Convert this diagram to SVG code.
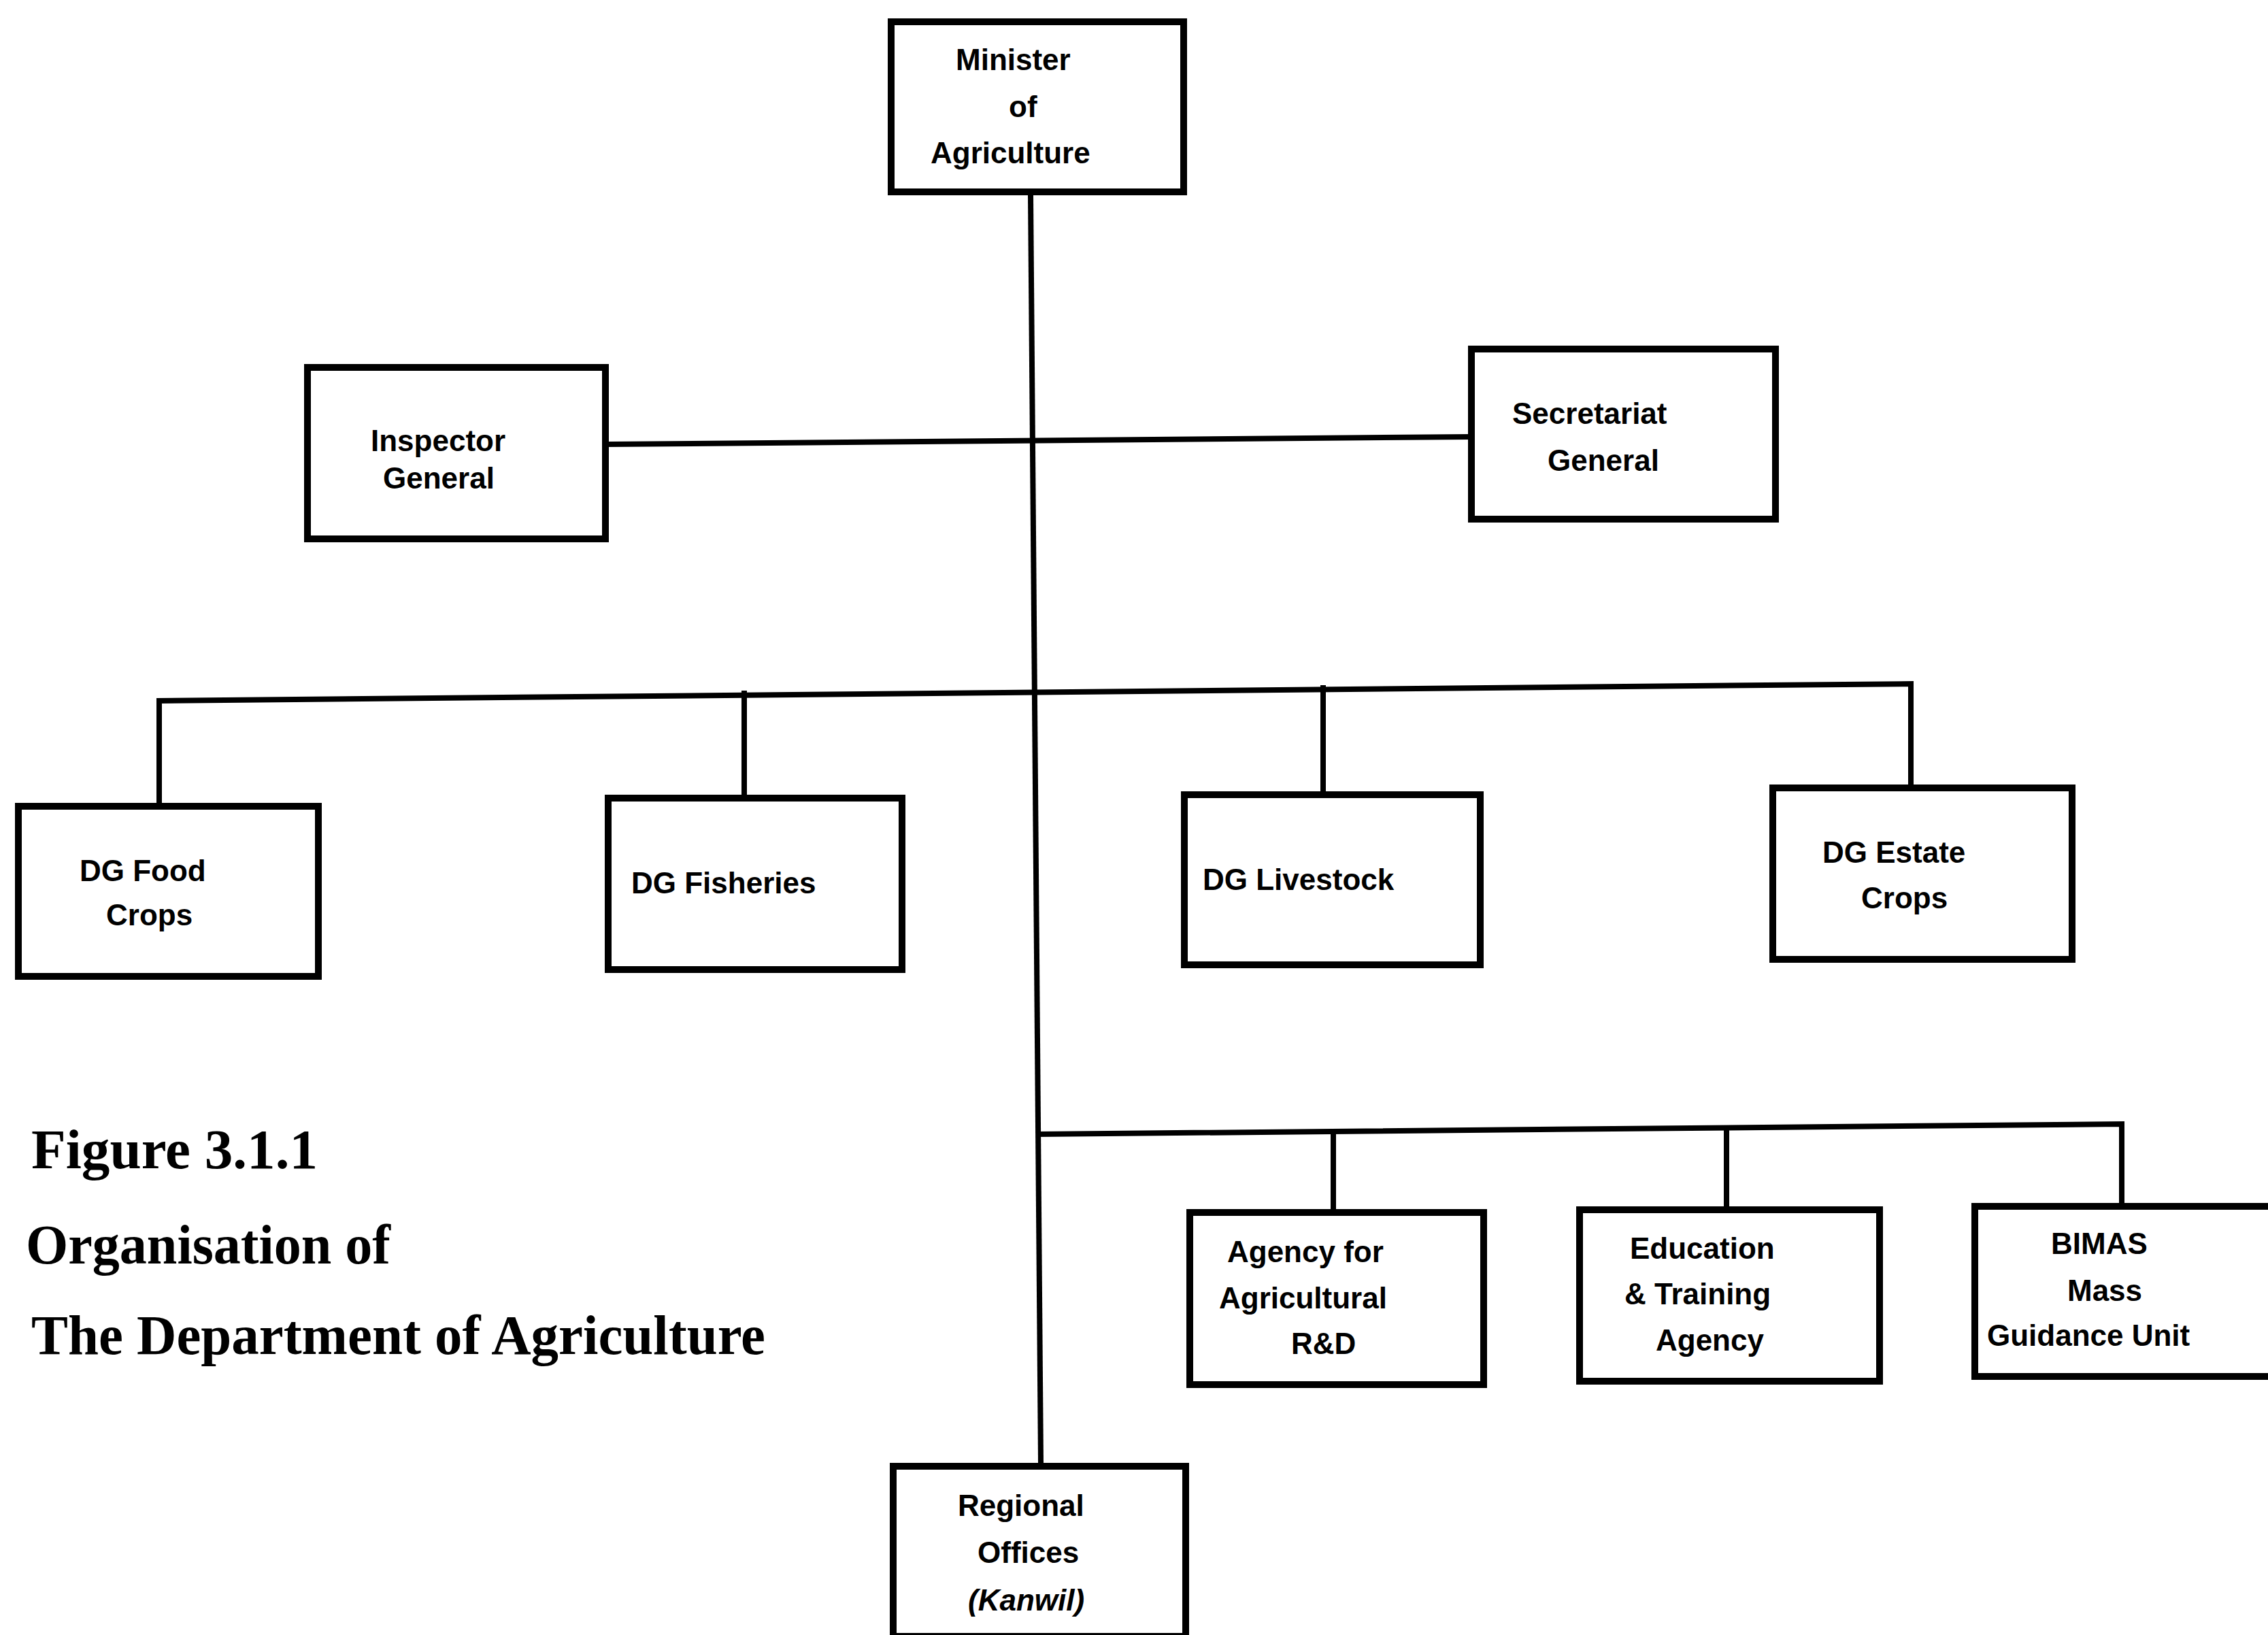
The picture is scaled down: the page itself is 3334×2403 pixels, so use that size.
<svg xmlns="http://www.w3.org/2000/svg" width="3334" height="2403" viewBox="0 0 3334 2403">
<style>
.box{fill:#fff;stroke:#000;stroke-width:10}
.con{fill:none;stroke:#000;stroke-width:8;stroke-linecap:square;stroke-linejoin:miter}
.lbl{font-family:"Liberation Sans",Arial,sans-serif;font-weight:bold;font-size:44px;fill:#000}
.it{font-style:italic}
.cap{font-family:"Liberation Serif","Times New Roman",serif;font-weight:bold;font-size:83px;fill:#000}
</style>
<rect width="3334" height="2403" fill="#fff"/>
<g id="connectors">
<path class="con" d="M1515,287 L1530,2150"/>
<path class="con" d="M895,653 L2158,642"/>
<path class="con" d="M234,1183 L234,1030 L2809,1005 L2809,1155"/>
<path class="con" d="M1094,1019 L1094,1170"/>
<path class="con" d="M1945,1011 L1945,1163"/>
<path class="con" d="M1527,1667 L3119,1652 L3119,1770"/>
<path class="con" d="M1960,1663 L1960,1778"/>
<path class="con" d="M2538,1658 L2538,1774"/>
</g>
<g id="minister">
<rect class="box" x="1310" y="32" width="430" height="250"/>
<text class="lbl" x="1405" y="103">Minister</text>
<text class="lbl" x="1483" y="172">of</text>
<text class="lbl" x="1368" y="240">Agriculture</text>
</g>
<g id="inspector-general">
<rect class="box" x="452" y="540" width="438" height="252"/>
<text class="lbl" x="545" y="663">Inspector</text>
<text class="lbl" x="563" y="718">General</text>
</g>
<g id="secretariat-general">
<rect class="box" x="2163" y="513" width="447" height="250"/>
<text class="lbl" x="2223" y="623">Secretariat</text>
<text class="lbl" x="2275" y="692">General</text>
</g>
<g id="dg-food-crops">
<rect class="box" x="27" y="1185" width="441" height="250"/>
<text class="lbl" x="117" y="1295">DG Food</text>
<text class="lbl" x="156" y="1360">Crops</text>
</g>
<g id="dg-fisheries">
<rect class="box" x="894" y="1173" width="432" height="252"/>
<text class="lbl" x="928" y="1313">DG Fisheries</text>
</g>
<g id="dg-livestock">
<rect class="box" x="1741" y="1168" width="435" height="250"/>
<text class="lbl" x="1768" y="1308">DG Livestock</text>
</g>
<g id="dg-estate-crops">
<rect class="box" x="2606" y="1158" width="440" height="252"/>
<text class="lbl" x="2679" y="1268">DG Estate</text>
<text class="lbl" x="2736" y="1335">Crops</text>
</g>
<g id="agency-rd">
<rect class="box" x="1749" y="1782" width="432" height="253"/>
<text class="lbl" x="1804" y="1855">Agency for</text>
<text class="lbl" x="1792" y="1923">Agricultural</text>
<text class="lbl" x="1898" y="1990">R&amp;D</text>
</g>
<g id="education-training">
<rect class="box" x="2322" y="1778" width="441" height="252"/>
<text class="lbl" x="2396" y="1850">Education</text>
<text class="lbl" x="2388" y="1917">&amp; Training</text>
<text class="lbl" x="2434" y="1985">Agency</text>
</g>
<g id="bimas">
<rect class="box" x="2903" y="1773" width="460" height="250"/>
<text class="lbl" x="3015" y="1843">BIMAS</text>
<text class="lbl" x="3039" y="1912">Mass</text>
<text class="lbl" x="2921" y="1978">Guidance Unit</text>
</g>
<g id="regional-offices">
<rect class="box" x="1313" y="2155" width="430" height="250"/>
<text class="lbl" x="1408" y="2228">Regional</text>
<text class="lbl" x="1437" y="2297">Offices</text>
<text class="lbl it" x="1423" y="2367">(Kanwil)</text>
</g>
<g id="caption">
<text class="cap" x="46" y="1717" textLength="421" lengthAdjust="spacingAndGlyphs">Figure 3.1.1</text>
<text class="cap" x="38" y="1857" textLength="536" lengthAdjust="spacingAndGlyphs">Organisation of</text>
<text class="cap" x="46" y="1990" textLength="1079" lengthAdjust="spacingAndGlyphs">The Department of Agriculture</text>
</g>
</svg>
